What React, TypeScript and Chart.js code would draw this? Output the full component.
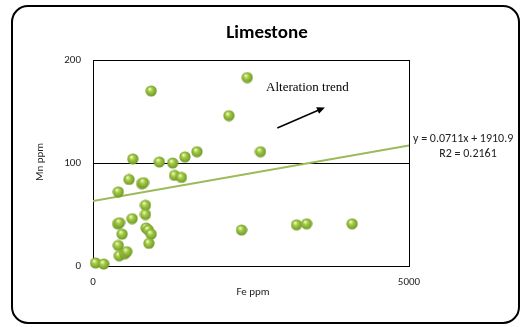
import React, { useEffect, useRef } from "react";
import { Chart, registerables } from "chart.js";

Chart.register(...registerables);

const feValues = [40, 170, 570, 770, 800, 400, 1290, 1400, 830, 830, 620, 390, 420, 460, 840, 875, 920, 885, 400, 415, 505, 535, 2350, 920, 2440, 2150, 630, 1050, 1260, 1455, 1645, 2650, 3220, 3380, 4100];
const mnValues = [3, 2, 84, 80, 81, 72, 88, 86, 59, 50, 46, 41, 42, 31, 37, 35, 31, 22, 20, 10, 12, 14, 35, 170, 183, 146, 104, 101, 100, 106, 111, 111, 40, 41, 41];
const trendX = [0, 5000];
const trendY = [63, 117];
const xTicks = [0, 5000];
const yTicks = [0, 100, 200];
const titleText = "Limestone";
const xTitle = "Fe ppm";
const yTitle = "Mn ppm";
const eqText = "y = 0.0711x + 1910.9";
const r2Text = "R2 = 0.2161";
const annotText = "Alteration trend";
const arrowFrom = { x: 2916, y: 134 };
const arrowTo = { x: 3670, y: 154 };
const annotPos = { x: 3393, y: 173 };

const SANS = "Carlito, 'Liberation Sans', Arial, sans-serif";

function makeSprite(): HTMLCanvasElement {
  const c = document.createElement("canvas");
  c.width = 12;
  c.height = 12;
  const g = c.getContext("2d")!;
  const grad = g.createRadialGradient(4.5, 4, 0.5, 6, 6, 6.5);
  grad.addColorStop(0, "#eef8b8");
  grad.addColorStop(0.3, "#a6cc48");
  grad.addColorStop(0.75, "#7aa52c");
  grad.addColorStop(1, "#587d1c");
  g.fillStyle = grad;
  g.beginPath();
  g.arc(6, 6, 5.6, 0, Math.PI * 2);
  g.fill();
  return c;
}

export default function App() {
  const ref = useRef<HTMLCanvasElement | null>(null);
  useEffect(() => {
    document.body.style.margin = "0";
    const sprite = makeSprite();
    const overlay = {
      id: "overlay",
      afterDraw(chart: any) {
        const ctx = chart.ctx;
        const xs = chart.scales.x;
        const ys = chart.scales.y;
        ctx.save();
        // frame
        ctx.strokeStyle = "#000";
        ctx.lineWidth = 2;
        ctx.beginPath();
        (ctx as any).roundRect(12, 6, 507, 317, 16);
        ctx.stroke();
        // title
        ctx.fillStyle = "#000";
        ctx.font = `bold 19px ${SANS}`;
        ctx.textAlign = "center";
        ctx.textBaseline = "middle";
        ctx.fillText(titleText, 267, 33);
        // axis titles
        ctx.font = `11px ${SANS}`;
        ctx.fillStyle = "#222";
        ctx.fillText(xTitle, 253, 292);
        ctx.save();
        ctx.translate(40, 162);
        ctx.rotate(-Math.PI / 2);
        ctx.fillText(yTitle, 0, 0);
        ctx.restore();
        // equation
        ctx.font = `12px ${SANS}`;
        ctx.textAlign = "left";
        ctx.fillText(eqText, 413, 139);
        ctx.textAlign = "center";
        ctx.fillText(r2Text, 468, 154);
        // annotation
        ctx.font = "13px 'Liberation Serif', 'Times New Roman', serif";
        ctx.fillStyle = "#000";
        ctx.fillText(annotText, xs.getPixelForValue(annotPos.x), ys.getPixelForValue(annotPos.y));
        const x1 = xs.getPixelForValue(arrowFrom.x);
        const y1 = ys.getPixelForValue(arrowFrom.y);
        const x2 = xs.getPixelForValue(arrowTo.x);
        const y2 = ys.getPixelForValue(arrowTo.y);
        const ang = Math.atan2(y2 - y1, x2 - x1);
        ctx.strokeStyle = "#000";
        ctx.lineWidth = 1.5;
        ctx.beginPath();
        ctx.moveTo(x1, y1);
        ctx.lineTo(x2 - 6 * Math.cos(ang), y2 - 6 * Math.sin(ang));
        ctx.stroke();
        ctx.beginPath();
        ctx.moveTo(x2, y2);
        ctx.lineTo(x2 - 8 * Math.cos(ang) + 3.5 * Math.sin(ang), y2 - 8 * Math.sin(ang) - 3.5 * Math.cos(ang));
        ctx.lineTo(x2 - 8 * Math.cos(ang) - 3.5 * Math.sin(ang), y2 - 8 * Math.sin(ang) + 3.5 * Math.cos(ang));
        ctx.closePath();
        ctx.fill();
        ctx.restore();
      },
    };
    const chart = new Chart(ref.current!, {
      type: "scatter",
      data: {
        datasets: [
          {
            type: "scatter",
            data: feValues.map((x, i) => ({ x, y: mnValues[i] })),
            pointStyle: sprite as any,
            pointRadius: 6,
            clip: false as any,
            order: 0,
          },
          {
            type: "line",
            data: trendX.map((x, i) => ({ x, y: trendY[i] })),
            borderColor: "#9bbb59",
            borderWidth: 2,
            pointRadius: 0,
            order: 1,
          } as any,
        ],
      },
      options: {
        animation: false,
        responsive: false,
        devicePixelRatio: 1,
        layout: { padding: { left: 0, top: 60, right: 111, bottom: 31 } },
        plugins: { legend: { display: false }, tooltip: { enabled: false }, title: { display: false } },
        scales: {
          x: {
            type: "linear",
            min: 0,
            max: 5000,
            afterFit: (s: any) => { s.height = 30; },
            afterBuildTicks: (s: any) => { s.ticks = xTicks.map((v) => ({ value: v })); },
            grid: { color: "#000", drawTicks: false, lineWidth: 1 },
            border: { color: "#000", width: 1 },
            ticks: { padding: 10, color: "#222", font: { size: 11, family: SANS }, maxRotation: 0, callback: (v: any) => String(v) },
          },
          y: {
            type: "linear",
            min: 0,
            max: 200,
            afterFit: (s: any) => { s.width = 93; },
            afterBuildTicks: (s: any) => { s.ticks = yTicks.map((v) => ({ value: v })); },
            grid: { color: "#000", drawTicks: false, lineWidth: 1 },
            border: { color: "#000", width: 1 },
            ticks: { padding: 12, color: "#222", font: { size: 11, family: SANS }, callback: (v: any) => String(v) },
          },
        },
      },
      plugins: [overlay],
    });
    return () => chart.destroy();
  }, []);
  return (
    <div style={{ position: "fixed", left: 0, top: 0, width: 520, height: 327, background: "#fff" }}>
      <canvas ref={ref} width={520} height={327} style={{ width: 520, height: 327 }} />
    </div>
  );
}
